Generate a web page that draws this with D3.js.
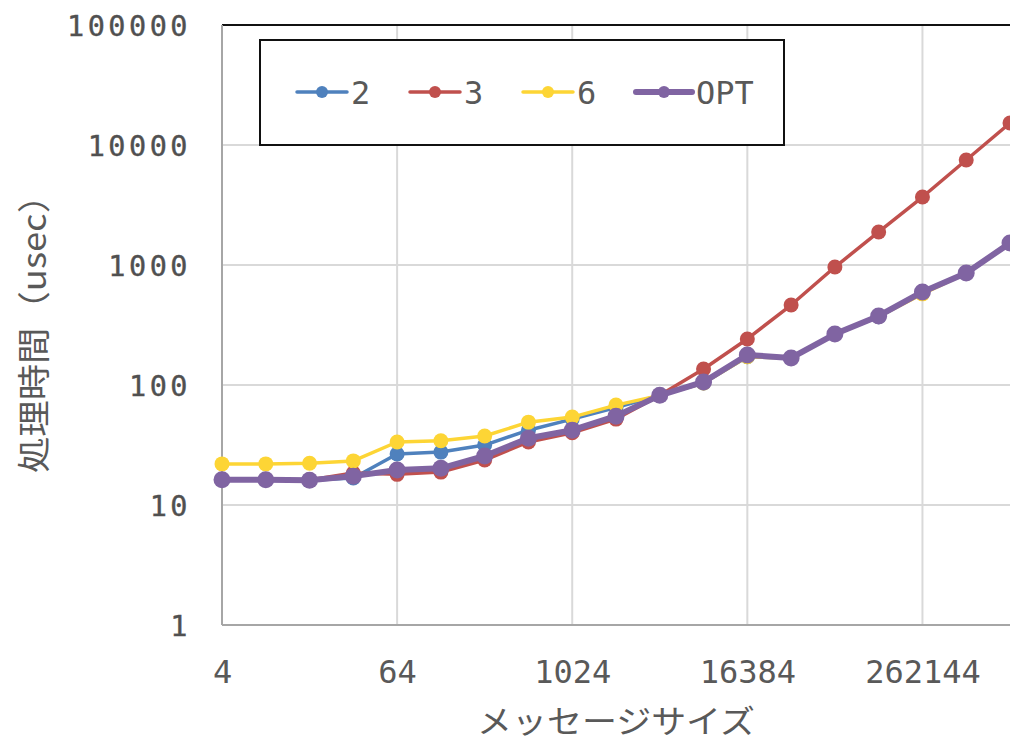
<!DOCTYPE html>
<html><head><meta charset="utf-8">
<script src="https://cdn.jsdelivr.net/npm/d3@7"></script>
<style>body{margin:0;background:#fff}svg{display:block}</style>
</head><body><div id="chart"></div>
<script>
const sizes = [4,8,16,32,64,128,256,512,1024,2048,4096,8192,16384,32768,65536,131072,262144,524288,1048576];
const s2  = [16.2,16.2,16.1,16.8,26.6,27.6,31.6,42,52,65,82,104,172,168,266,370,590,855,1520];
const s3  = [16.3,16.3,16.2,18.5,18.0,18.8,23.7,33.5,40,52,82,136,242,464,962,1884,3686,7500,15250];
const s6  = [22,22,22.3,23.3,33.5,34.3,37.6,49,54,68,82,104,172,168,266,372,575,855,1520];
const opt = [16.2,16.2,16.1,17.4,19.6,20.2,25.6,36,42,55,82,106,178,168,266,376,596,857,1525];
const seriesNames = ["2","3","6","OPT"];
const xTicks = [4,64,1024,16384,262144];
const yTicks = [1,10,100,1000,10000,100000];

const W=1010,H=742;
const m={l:222,t:25,r:0,b:117};
const svg=d3.select("#chart").append("svg").attr("width",W).attr("height",H);
const x=d3.scaleLog().base(2).domain([4,1048576]).range([m.l,W-m.r]);
const y=d3.scaleLog().domain([1,100000]).range([H-m.b,m.t]);

const series=[
 {name:seriesNames[0],vals:s2,color:"#4F81BD",w:3.5,r:7.5},
 {name:seriesNames[1],vals:s3,color:"#C0504D",w:3.5,r:7.5},
 {name:seriesNames[2],vals:s6,color:"#FDD535",w:3.5,r:7.5},
 {name:seriesNames[3],vals:opt,color:"#8064A2",w:6,r:8.5}
];

// grid
svg.append("g").selectAll("line").data(yTicks).join("line")
 .attr("x1",m.l).attr("x2",W).attr("y1",d=>y(d)).attr("y2",d=>y(d))
 .attr("stroke","#d9d9d9").attr("stroke-width",2);
svg.append("g").selectAll("line").data(xTicks).join("line")
 .attr("x1",d=>x(d)).attr("x2",d=>x(d)).attr("y1",m.t).attr("y2",H-m.b)
 .attr("stroke","#d9d9d9").attr("stroke-width",2);
// top border black
svg.append("line").attr("x1",m.l).attr("x2",W).attr("y1",m.t).attr("y2",m.t).attr("stroke","#111").attr("stroke-width",2);
// axes
svg.append("line").attr("x1",m.l).attr("x2",W).attr("y1",y(1)).attr("y2",y(1)).attr("stroke","#a6a6a6").attr("stroke-width",2);
svg.append("line").attr("x1",m.l).attr("x2",m.l).attr("y1",m.t).attr("y2",y(1)).attr("stroke","#a6a6a6").attr("stroke-width",2);

// axis labels
const xAxis=d3.axisBottom(x).tickValues(xTicks).tickFormat(d3.format("d")).tickSize(0).tickPadding(0);
const gx=svg.append("g").attr("transform",`translate(0,${y(1)})`).call(xAxis);
gx.select(".domain").remove();
gx.selectAll("text").attr("dy",null).attr("y",58).attr("fill","#595959")
 .style("font-family","'DejaVu Sans Mono',monospace").style("font-size","32px");

const yAxis=d3.axisLeft(y).tickValues(yTicks).tickFormat(d3.format("d")).tickSize(0).tickPadding(0);
const gy=svg.append("g").attr("transform",`translate(${m.l},0)`).call(yAxis);
gy.select(".domain").remove();
gy.selectAll("text").attr("x",-31).attr("dy","0.36em").attr("fill","#505050")
 .style("font-family","'DejaVu Sans Mono',monospace").style("font-size","28.5px").style("letter-spacing","3.5px")
 .style("stroke","#505050").style("stroke-width","0.4px");

// titles
svg.append("text").attr("transform",`translate(46,${(m.t+y(1))/2}) rotate(-90)`)
 .attr("text-anchor","middle").attr("fill","#595959")
 .style("font-family","'Noto Sans CJK JP',sans-serif").style("font-size","33px")
 .attr("textLength",296).attr("lengthAdjust","spacingAndGlyphs")
 .text("処理時間（usec）");
svg.append("text").attr("x",(m.l+W)/2).attr("y",733).attr("text-anchor","middle").attr("fill","#595959")
 .style("font-family","'Noto Sans CJK JP',sans-serif").style("font-size","32px")
 .attr("textLength",278).attr("lengthAdjust","spacingAndGlyphs")
 .text("メッセージサイズ");

// series
const line=d3.line().x((d,i)=>x(sizes[i])).y(d=>y(d));
series.forEach(s=>{
  const g=svg.append("g");
  g.append("path").datum(s.vals).attr("d",line).attr("fill","none").attr("stroke",s.color)
   .attr("stroke-width",s.w).attr("stroke-linejoin","round");
  g.selectAll("circle").data(s.vals).join("circle")
   .attr("cx",(d,i)=>x(sizes[i])).attr("cy",d=>y(d)).attr("r",s.r).attr("fill",s.color);
});

// legend
const lg=svg.append("g");
lg.append("rect").attr("x",260).attr("y",40).attr("width",524).attr("height",105)
 .attr("fill","#fff").attr("stroke","#111").attr("stroke-width",2);
const lx=[297,410,523,636];
series.forEach((s,i)=>{
  const lw = i===3?56:50;
  lg.append("line").attr("x1",lx[i]).attr("x2",lx[i]+lw).attr("y1",92).attr("y2",92)
    .attr("stroke",s.color).attr("stroke-width",s.w).attr("stroke-linecap","round");
  lg.append("circle").attr("cx",lx[i]+lw/2).attr("cy",92).attr("r",6).attr("fill",s.color);
  lg.append("text").attr("x",lx[i]+lw+4).attr("y",104).attr("fill","#595959")
    .style("font-family","'DejaVu Sans Mono',monospace").style("font-size","32px").text(s.name);
});
</script></body></html>
